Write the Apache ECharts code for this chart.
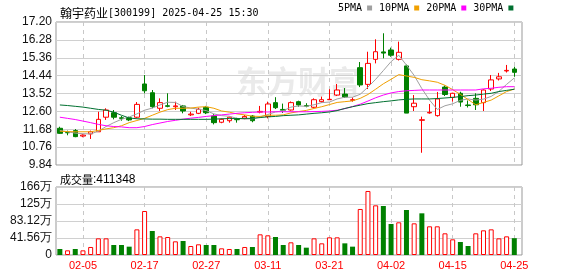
<!DOCTYPE html>
<html><head><meta charset="utf-8">
<script src="https://cdn.jsdelivr.net/npm/echarts@6/dist/echarts.min.js"></script>
<style>html,body{margin:0;padding:0;background:#fff}#c{width:578px;height:276px}</style>
</head><body><div id="c"></div>
<script>
const stockName = '翰宇药业';
const stockCode = '300199';
const stamp = '2025-04-25 15:30';
const volLabel = '成交量';
const maNames = ['5PMA', '10PMA', '20PMA', '30PMA'];
const maColors = ['#a0a0a0', '#f0a000', '#ff00ff', '#007030'];

const dates = ['01-23','01-24','01-27','02-05','02-06','02-07','02-10','02-11','02-12','02-13',
  '02-14','02-17','02-18','02-19','02-20','02-21','02-24','02-25','02-26','02-27',
  '02-28','03-03','03-04','03-05','03-06','03-07','03-10','03-11','03-12','03-13',
  '03-14','03-17','03-18','03-19','03-20','03-21','03-24','03-25','03-26','03-27',
  '03-28','03-31','04-01','04-02','04-03','04-07','04-08','04-09','04-10','04-11',
  '04-14','04-15','04-16','04-17','04-18','04-21','04-22','04-23','04-24','04-25'];
const dateTicks = ['02-05','02-17','02-27','03-11','03-21','04-02','04-15','04-25'];

const opens = [11.73,11.51,11.61,11.33,11.44,11.55,12.30,12.53,12.27,12.27,
  12.30,14.01,13.56,12.76,12.89,12.84,12.88,12.42,12.50,12.81,
  12.36,12.04,12.12,12.19,12.25,12.36,12.56,12.33,13.05,12.70,
  12.67,13.10,12.90,12.81,13.10,13.20,13.44,13.49,13.17,14.85,
  13.99,15.28,15.66,15.76,15.28,14.94,12.84,12.14,12.52,12.38,
  13.85,13.32,13.53,12.93,13.27,13.05,13.75,14.27,14.68,14.78];
const closes = [11.47,11.50,11.30,11.38,11.55,12.19,12.67,12.30,12.24,12.16,
  12.96,13.66,12.84,13.05,12.86,12.88,12.62,12.46,12.71,12.53,
  12.02,12.19,12.30,12.17,12.34,12.12,12.60,12.98,12.79,12.66,
  13.05,12.93,12.87,13.20,13.20,13.22,13.70,13.34,13.20,13.96,
  15.07,15.67,15.60,15.49,15.64,12.51,13.02,12.17,12.55,13.24,
  13.47,13.53,13.08,12.90,12.94,13.70,14.22,14.38,14.71,14.61];
const lows = [11.44,11.37,11.27,11.27,11.18,11.55,12.16,12.19,12.12,12.10,
  12.24,13.53,12.76,12.62,12.81,12.67,12.50,12.36,12.46,12.46,
  11.93,11.99,12.02,12.02,12.19,12.04,12.50,12.24,12.72,12.52,
  12.64,12.84,12.81,12.76,13.05,13.19,13.39,13.29,13.10,13.85,
  13.75,15.07,15.33,15.41,15.22,12.51,12.62,10.47,12.48,12.33,
  13.39,13.10,12.84,12.80,12.67,12.62,13.65,14.19,14.60,14.38];
const highs = [11.81,11.61,11.69,11.42,11.61,12.58,12.76,12.67,12.36,12.33,
  13.08,14.47,13.70,13.27,13.53,13.10,12.93,12.58,12.79,12.88,
  12.46,12.24,12.33,12.27,12.41,12.41,12.88,13.10,13.33,13.00,
  13.11,13.15,13.02,13.27,13.36,13.74,14.01,13.80,13.32,15.14,
  15.67,16.31,16.62,15.88,16.19,15.01,13.44,12.33,12.98,13.60,
  13.93,13.56,13.61,13.16,13.53,13.73,14.47,14.58,14.99,14.90];

const volumes = [146700,114000,147000,114000,196000,407000,407000,244000,244000,204000,
  627000,1076000,587000,456000,440000,334000,342000,220000,261000,244000,
  244000,163000,147000,147000,196000,196000,505000,481000,440000,244000,
  310000,244000,179000,407000,285000,432000,432000,285000,204000,1125000,
  1565000,1214000,1198000,758000,799000,1100000,774000,1019000,701000,701000,
  530000,383000,318000,220000,530000,603000,627000,407000,456000,411348];
const volUp = [0,1,0,1,1,1,1,0,0,0, 1,1,0,1,1,1,0,1,1,0, 0,1,1,0,1,0,1,1,0,0,
  1,0,0,1,1,1,1,0,0,1, 1,1,0,0,1,0,1,0,1,1, 1,1,0,0,1,1,1,1,1,0];

const ma5 = [11.62,11.55,11.48,11.45,11.44,11.58,11.82,12.02,12.19,12.31,
  12.47,12.66,12.77,12.93,13.07,13.06,12.85,12.77,12.71,12.64,
  12.47,12.38,12.35,12.24,12.20,12.22,12.31,12.44,12.57,12.63,
  12.82,12.88,12.86,12.94,13.05,13.08,13.24,13.33,13.33,13.48,
  13.85,14.25,14.70,15.16,15.49,14.98,14.45,13.77,13.18,12.70,
  12.89,12.99,13.17,13.24,13.18,13.23,13.37,13.63,13.99,14.32];
const ma10 = [11.58,11.56,11.55,11.55,11.55,11.62,11.70,11.76,11.86,12.02,
  12.13,12.24,12.40,12.56,12.69,12.76,12.76,12.77,12.82,12.84,
  12.76,12.62,12.56,12.47,12.42,12.35,12.34,12.40,12.40,12.42,
  12.52,12.59,12.65,12.75,12.84,12.95,13.06,13.10,13.14,13.27,
  13.47,13.74,14.02,14.25,14.49,14.42,14.35,14.23,14.17,14.10,
  13.94,13.72,13.47,13.21,12.94,13.06,13.18,13.40,13.62,13.75];
const ma20 = [12.30,12.24,12.18,12.10,12.02,11.93,11.86,11.82,11.80,11.76,
  11.76,11.82,11.92,12.00,12.08,12.14,12.20,12.25,12.29,12.34,
  12.38,12.42,12.46,12.50,12.53,12.55,12.57,12.57,12.58,12.58,
  12.58,12.58,12.58,12.59,12.60,12.62,12.66,12.74,12.85,12.97,
  13.13,13.30,13.44,13.55,13.62,13.66,13.68,13.70,13.70,13.70,
  13.70,13.70,13.70,13.70,13.70,13.76,13.79,13.84,13.87,13.87];
const ma30 = [12.93,12.90,12.86,12.82,12.76,12.70,12.66,12.56,12.40,12.26,
  12.22,12.21,12.20,12.20,12.19,12.19,12.19,12.19,12.19,12.19,
  12.20,12.22,12.23,12.23,12.24,12.24,12.28,12.32,12.34,12.38,
  12.40,12.42,12.46,12.50,12.53,12.57,12.64,12.75,12.84,12.92,
  13.00,13.05,13.10,13.14,13.19,13.22,13.24,13.24,13.24,13.26,
  13.29,13.32,13.36,13.41,13.44,13.49,13.53,13.62,13.68,13.74];

const priceTicks = ['9.84','10.76','11.68','12.60','13.52','14.44','15.36','16.28','17.20'];
const volTickValues = [0, 415600, 831200, 1246800, 1662400];
const volTickLabels = ['0', '41.56万', '83.12万', '125万', '166万'];

const N = dates.length;
const tickIdx = dateTicks.map(d => dates.indexOf(d));
const priceVals = priceTicks.map(Number);

const kData = dates.map((d, i) => [i, opens[i], closes[i], lows[i], highs[i]]);
const volData = dates.map((d, i) => ({
  value: [i, volumes[i]],
  itemStyle: volUp[i] ? {color: '#ffffff', borderColor: '#ff0000', borderWidth: 1} : {color: '#008000'}
}));
const maSeries = [ma5, ma10, ma20, ma30].map((arr, k) => ({
  type: 'line', name: maNames[k], xAxisIndex: 0, yAxisIndex: 0,
  data: arr.map((v, i) => [i, v]), symbol: 'none', color: maColors[k],
  lineStyle: {width: 1, color: maColors[k]}, z: 3, silent: true
}));

const gridBase = {show: true, borderColor: '#999', borderWidth: 1, backgroundColor: 'transparent'};
const splitX = {show: true, lineStyle: {color: '#c8c8c8', type: [4, 4], width: 1}};

const chart = echarts.init(document.getElementById('c'), null, {renderer: 'canvas'});
chart.setOption({
  animation: false,
  backgroundColor: '#fff',
  title: [{
    text: '{a|' + stockName + '}{b|[' + stockCode + '] ' + stamp + '}',
    left: 55, top: 2,
    textStyle: {rich: {
      a: {fontFamily: 'Noto Sans CJK SC', fontSize: 12, color: '#000', fontWeight: 'normal'},
      b: {fontFamily: 'DejaVu Sans Mono', fontSize: 10, color: '#000', fontWeight: 'normal'}
    }}
  }, {
    text: '{a|' + volLabel + '}{b|:' + volumes[N - 1] + '}',
    left: 55, top: 169,
    textStyle: {rich: {
      a: {fontFamily: 'Noto Sans CJK SC', fontSize: 11, color: '#000', fontWeight: 'normal'},
      b: {fontFamily: 'Liberation Sans', fontSize: 12, color: '#000', fontWeight: 'normal'}
    }}
  }],
  legend: {
    data: maNames, left: 338, top: 3, icon: 'rect', itemWidth: 5, itemHeight: 5,
    itemGap: 7, align: 'right', selectedMode: false, padding: 0,
    textStyle: {fontFamily: 'DejaVu Sans Mono', fontSize: 10, color: '#000'}
  },
  graphic: [{
    type: 'text', left: 236, top: 66, z: 0, silent: true,
    style: {text: '东方财富', fontSize: 31, fontWeight: 'bold', fontFamily: 'Noto Sans CJK SC',
      fill: 'rgba(180,180,180,0.28)', letterSpacing: 9}
  }],
  grid: [
    Object.assign({left: 56, top: 22, width: 466, height: 143}, gridBase),
    Object.assign({left: 56, top: 187, width: 466, height: 68}, gridBase)
  ],
  xAxis: [{
    type: 'value', gridIndex: 0, min: -0.5, max: N,
    axisLine: {show: false}, axisTick: {show: false, customValues: tickIdx},
    axisLabel: {show: false, customValues: tickIdx}, splitLine: splitX
  }, {
    type: 'value', gridIndex: 1, min: -0.5, max: N,
    axisLine: {show: false}, axisTick: {show: false, customValues: tickIdx},
    axisLabel: {show: true, customValues: tickIdx, formatter: v => dates[Math.round(v)],
      color: '#ff0000', fontSize: 11, fontFamily: 'Liberation Sans', margin: 5},
    splitLine: splitX
  }],
  yAxis: [{
    type: 'value', gridIndex: 0, min: priceVals[0], max: priceVals[priceVals.length - 1],
    axisLine: {show: false}, axisTick: {show: false, customValues: priceVals},
    axisLabel: {customValues: priceVals, formatter: v => priceTicks[priceVals.indexOf(v)] || v.toFixed(2),
      color: '#111', fontSize: 12, fontFamily: 'Liberation Sans', margin: 4},
    splitLine: {show: true, lineStyle: {color: '#d0d0d0', width: 1}}
  }, {
    type: 'value', gridIndex: 1, min: 0, max: volTickValues[volTickValues.length - 1],
    axisLine: {show: false}, axisTick: {show: false, customValues: volTickValues},
    axisLabel: {customValues: volTickValues, formatter: v => volTickLabels[volTickValues.indexOf(v)],
      color: '#111', fontSize: 12, fontFamily: 'Liberation Sans', margin: 4},
    splitLine: {show: true, lineStyle: {color: '#d0d0d0', width: 1}}
  }],
  series: [{
    type: 'candlestick', name: 'K', xAxisIndex: 0, yAxisIndex: 0, data: kData,
    barWidth: 5, z: 2, silent: true,
    itemStyle: {color: '#ffffff', color0: '#008000', borderColor: '#ff0000', borderColor0: '#008000', borderWidth: 1}
  }].concat(maSeries).concat([{
    type: 'bar', name: 'VOL', xAxisIndex: 1, yAxisIndex: 1, data: volData, barWidth: 5, silent: true
  }])
});
</script>
</body></html>
